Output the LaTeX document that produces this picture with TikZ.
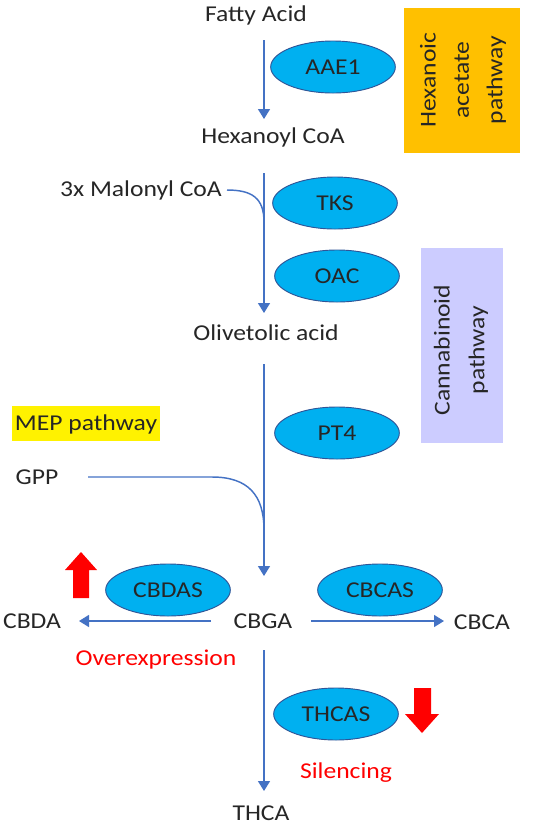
\documentclass[tikz,border=0pt]{standalone}
\usepackage{fontspec}
\setmainfont{Carlito}
\usetikzlibrary{shapes.geometric,arrows.meta}
\definecolor{arrblue}{HTML}{4472C4}
\definecolor{enzfill}{HTML}{00B0F0}
\definecolor{enzline}{HTML}{2F5597}
\definecolor{hexbox}{HTML}{FFC000}
\definecolor{canbox}{HTML}{CCCCFF}
\definecolor{txt}{HTML}{262626}
\newcommand\wt[1]{\scalebox{1.13}[1]{#1}}
\tikzset{
  lbl/.style={inner sep=0pt, text=txt, font=\fontsize{17}{20}\selectfont},
  redlbl/.style={lbl, text=red},
  enz/.style={ellipse, draw=enzline, line width=0.7pt, fill=enzfill, inner sep=0pt,
     minimum width=93.5pt, minimum height=39pt, text=txt, font=\fontsize{17}{20}\selectfont},
  arr/.style={draw=arrblue, line width=1.1pt, -{Triangle[width=9pt,length=7.5pt]}},
  conn/.style={draw=arrblue, line width=1.1pt},
  rot/.style={inner sep=0pt, rotate=90, align=center, text=txt, font=\fontsize{17}{25}\selectfont},
  bigarrow/.style={fill=red}
}
\begin{document}
\begin{tikzpicture}[x=0.75pt,y=-0.75pt]
\useasboundingbox (0,0) rectangle (551,826);
% side boxes
\fill[hexbox] (404,8) rectangle (520,153);
\node[rot] (hexlbl) at (463,80) {\wt{Hexanoic}\\\wt{acetate}\\\wt{pathway}};
\fill[canbox] (421,248) rectangle (503,443);
\node[rot, font=\fontsize{17}{26}\selectfont] (canlbl) at (461,350) {\wt{Cannabinoid}\\\wt{pathway}};
\fill[yellow] (12,406) rectangle (160,441);
\node[lbl] (mep) at (86,424) {\wt{MEP pathway}};
% metabolites
\node[lbl] (fa) at (256,15) {\wt{Fatty Acid}};
\node[lbl] (hc) at (273,137) {\wt{Hexanoyl CoA}};
\node[lbl] (mc) at (141,190) {\wt{3x Malonyl CoA}};
\node[lbl] (ol) at (266,333) {\wt{Olivetolic acid}};
\node[lbl] (gpp) at (37,477) {\wt{GPP}};
\node[lbl] (cbga) at (263,621) {\wt{CBGA}};
\node[lbl] (cbda) at (32,621) {\wt{CBDA}};
\node[lbl] (cbca) at (482,622) {\wt{CBCA}};
\node[lbl] (thca) at (261,813) {\wt{THCA}};
\node[redlbl] (over) at (156,660) {\wt{Overexpression}};
\node[redlbl] (sil) at (346,773) {\wt{Silencing}};
% enzymes
\node[enz] (aae1) at (333,67) {\wt{AAE1}};
\node[enz] (tks) at (335,203) {\wt{TKS}};
\node[enz] (oac) at (337,276) {\wt{OAC}};
\node[enz] (pt4) at (337,433) {\wt{PT4}};
\node[enz] (cbdas) at (168,590) {\wt{CBDAS}};
\node[enz] (cbcas) at (380,590) {\wt{CBCAS}};
\node[enz] (thcas) at (336,714) {\wt{THCAS}};
% connector anchor points
\coordinate (a1s) at (264,40);  \coordinate (a1e) at (264,119);
\coordinate (a2s) at (264,173); \coordinate (a2e) at (264,313);
\coordinate (a3s) at (264,364); \coordinate (a3e) at (264,576);
\coordinate (a4s) at (264,650); \coordinate (a4e) at (264,791);
\coordinate (lcs) at (211,621); \coordinate (lce) at (79,621);
\coordinate (rcs) at (311,621); \coordinate (rce) at (444,621);
\coordinate (mcs) at (227,190); \coordinate (mcj) at (264,222);
\coordinate (gps) at (88,477);  \coordinate (gpk) at (212,477); \coordinate (gpj) at (264,530);
% arrows
\draw[arr] (a1s) -- (a1e);
\draw[arr] (a2s) -- (a2e);
\draw[arr] (a3s) -- (a3e);
\draw[arr] (a4s) -- (a4e);
\draw[arr] (lcs) -- (lce);
\draw[arr] (rcs) -- (rce);
\draw[conn] (mcs) .. controls (252,190) and (264,198) .. (mcj);
\draw[conn] (gps) -- (gpk) .. controls (248,477) and (264,495) .. (gpj);
% red block arrows
\fill[bigarrow] (81,552) -- (97,570) -- (89,570) -- (89,598) -- (73,598) -- (73,570) -- (65,570) -- cycle;
\fill[bigarrow] (405,714) -- (414,714) -- (414,688) -- (431,688) -- (431,714) -- (439,714) -- (422,733) -- cycle;
\end{tikzpicture}
\end{document}
